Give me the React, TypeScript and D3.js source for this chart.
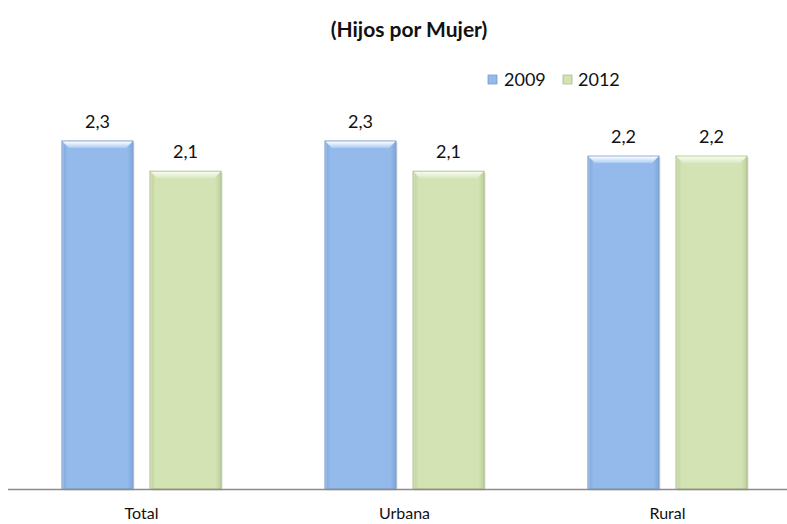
import React from "react";
import * as d3 from "d3";

const categories = ["Total", "Urbana", "Rural"];
const series = ["2009", "2012"];
const values2009 = [2.3, 2.3, 2.2];
const values2012 = [2.1, 2.1, 2.2];
const valueLabels2009 = ["2,3", "2,3", "2,2"];
const valueLabels2012 = ["2,1", "2,1", "2,2"];

const W = 787;
const H = 524;
const FONT = "Lato, 'Open Sans', sans-serif";

export default function App() {
  const baseY = 489;
  const x0 = d3.scaleBand<string>().domain(categories).range([10, 799]).paddingInner(0).paddingOuter(0);
  const x1 = d3.scaleBand<string>().domain(series).range([0, x0.bandwidth()]).paddingInner(0.193).paddingOuter(0.59);
  const y = d3.scaleLinear().domain([0, 2.5]).range([baseY, baseY - 378.3]);
  const data = [values2009, values2012];
  const labels = [valueLabels2009, valueLabels2012];
  const fills = ["url(#gBlue)", "url(#gGreen)"];
  const strokes = ["#7f9fc9", "#adbf8a"];
  const edgeLight = ["#c9ddf6", "#ecf3dc"];

  return (
    <svg width={W} height={H} style={{ position: "absolute", left: 0, top: 0, background: "#fff" }}>
      <defs>
        <linearGradient id="gBlue" x1="0" x2="1" y1="0" y2="0">
          <stop offset="0" stopColor="#7ea6dc" />
          <stop offset="0.08" stopColor="#93baeb" />
          <stop offset="0.92" stopColor="#93baeb" />
          <stop offset="1" stopColor="#7ea6dc" />
        </linearGradient>
        <linearGradient id="gGreen" x1="0" x2="1" y1="0" y2="0">
          <stop offset="0" stopColor="#bccf9a" />
          <stop offset="0.08" stopColor="#d4e3b4" />
          <stop offset="0.92" stopColor="#d4e3b4" />
          <stop offset="1" stopColor="#bccf9a" />
        </linearGradient>
        <linearGradient id="gBlueTop" x1="0" x2="0" y1="0" y2="1">
          <stop offset="0" stopColor="#ffffff" />
          <stop offset="1" stopColor="#a9cbf3" />
        </linearGradient>
        <linearGradient id="gGreenTop" x1="0" x2="0" y1="0" y2="1">
          <stop offset="0" stopColor="#f7fbee" />
          <stop offset="1" stopColor="#dbe8c2" />
        </linearGradient>
      </defs>

      <text x={409} y={37} textAnchor="middle" fontFamily={FONT} fontWeight="bold" fontSize={21} fill="#111">
        (Hijos por Mujer)
      </text>

      {/* legend */}
      <rect x={488} y={75} width={9} height={9} fill="url(#gBlue)" stroke="#7f9fc9" strokeWidth={0.8} />
      <text x={504} y={86} fontFamily={FONT} fontSize={18} fill="#111">2009</text>
      <rect x={563} y={75} width={9} height={9} fill="url(#gGreen)" stroke="#adbf8a" strokeWidth={0.8} />
      <text x={578} y={86} fontFamily={FONT} fontSize={18} fill="#111">2012</text>

      {categories.map((c, ci) =>
        series.map((s, si) => {
          const v = data[si][ci];
          const bx = (x0(c) ?? 0) + (x1(s) ?? 0);
          const bw = x1.bandwidth();
          const by = y(v);
          const bh = baseY - by;
          return (
            <g key={c + s}>
              <rect x={bx + 1.5} y={by + 1.5} width={bw} height={bh} fill="#000" opacity={0.12} />
              <rect x={bx} y={by} width={bw} height={bh} fill={fills[si]} stroke={strokes[si]} strokeWidth={1} />
              <polygon
                points={`${bx + 0.5},${by + 0.5} ${bx + bw - 0.5},${by + 0.5} ${bx + bw - 7},${by + 7} ${bx + 7},${by + 7}`}
                fill={si === 0 ? "url(#gBlueTop)" : "url(#gGreenTop)"}
              />
              <line x1={bx + 1} x2={bx + 1} y1={by + 1} y2={baseY} stroke={edgeLight[si]} strokeWidth={1} opacity={0.6} />
              <text x={bx + bw / 2} y={by - 13} textAnchor="middle" fontFamily={FONT} fontSize={18} fill="#111">
                {labels[si][ci]}
              </text>
            </g>
          );
        })
      )}

      <line x1={8} x2={W} y1={baseY + 0.5} y2={baseY + 0.5} stroke="#8c8c8c" strokeWidth={1.5} />

      {categories.map((c) => (
        <text key={c} x={(x0(c) ?? 0) + x0.bandwidth() / 2} y={519} textAnchor="middle" fontFamily={FONT} fontSize={16} fill="#111">
          {c}
        </text>
      ))}
    </svg>
  );
}
